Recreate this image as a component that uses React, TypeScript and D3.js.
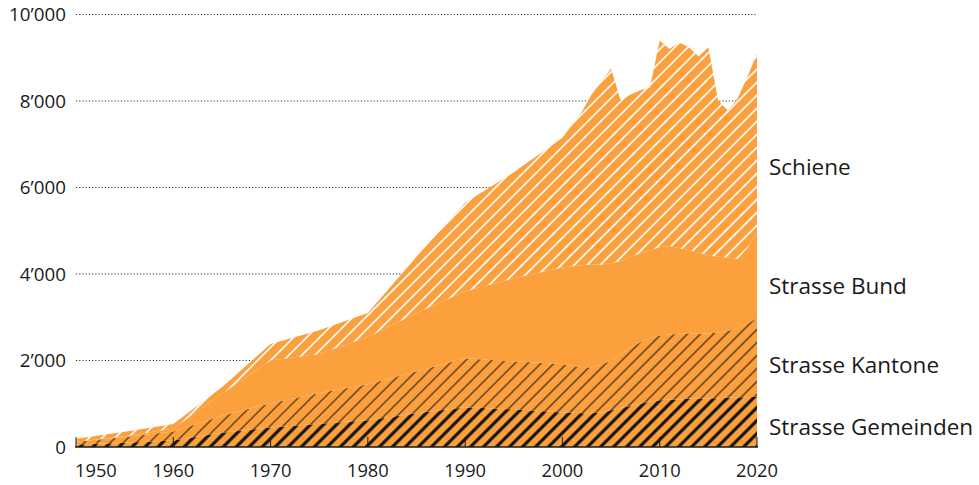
import React from "react";
import * as d3 from "d3";

const years = [1950, 1955, 1960, 1965, 1970, 1975, 1980, 1985, 1990, 1995, 2000, 2001, 2002, 2003, 2004, 2005, 2006, 2007, 2008, 2009, 2010, 2011, 2012, 2013, 2014, 2015, 2016, 2017, 2018, 2019, 2020];
const gemeinden = [60, 100, 150, 330, 450, 540, 620, 780, 920, 870, 800, 790, 780, 780, 800, 850, 900, 950, 1000, 1050, 1080, 1100, 1100, 1120, 1120, 1130, 1130, 1140, 1150, 1150, 1160];
const kantone = [60, 130, 210, 390, 560, 710, 830, 970, 1130, 1110, 1120, 1090, 1070, 1060, 1100, 1150, 1250, 1350, 1420, 1470, 1500, 1500, 1520, 1510, 1500, 1500, 1510, 1540, 1600, 1700, 1820];
const bund = [0, 20, 70, 510, 990, 900, 1100, 1350, 1550, 1920, 2230, 2300, 2350, 2380, 2320, 2250, 2150, 2100, 2060, 2030, 2040, 2050, 1980, 1920, 1880, 1800, 1760, 1700, 1600, 1750, 1970];
const schiene = [70, 100, 100, 150, 380, 550, 550, 1300, 2050, 2450, 3000, 3270, 3550, 3930, 4230, 4500, 3700, 3750, 3770, 3770, 4780, 4550, 4750, 4690, 4530, 4810, 3610, 3400, 3710, 3950, 4150];

const seriesKeys = ["gemeinden", "kantone", "bund", "schiene"];
const seriesLabels = ["Strasse Gemeinden", "Strasse Kantone", "Strasse Bund", "Schiene"];
const yTicks = [0, 2000, 4000, 6000, 8000, 10000];
const yTickLabels = ["0", "2’000", "4’000", "6’000", "8’000", "10’000"];
const xTicks = [1950, 1960, 1970, 1980, 1990, 2000, 2010, 2020];

const ORANGE = "#FBA03C";
const INK = "#1a1a1a";
const FONT = "'Open Sans', 'Noto Sans', sans-serif";

export default function App() {
  const W = 979, H = 485;
  const x = d3.scaleLinear().domain([1950, 2020]).range([76, 757]);
  const y = d3.scaleLinear().domain([0, 10000]).range([447, 14.5]);

  const rows = years.map((yr, i) => ({
    year: yr,
    gemeinden: gemeinden[i],
    kantone: kantone[i],
    bund: bund[i],
    schiene: schiene[i],
  }));
  const stacked = d3.stack<any>().keys(seriesKeys)(rows);
  const area = d3
    .area<any>()
    .x((d) => x(d.data.year))
    .y0((d) => y(d[0]))
    .y1((d) => y(d[1]))
    .curve(d3.curveLinear);

  const fills = ["url(#hatchThick)", "url(#hatchThin)", ORANGE, "url(#hatchWhite)"];
  const labelY = [427, 365, 286, 167];

  const sp = 9.2;
  const mkPattern = (id: string, color: string, w: number) => (
    <pattern id={id} patternUnits="userSpaceOnUse" width={sp} height={sp} patternTransform="rotate(45)">
      <rect x={0} y={0} width={sp} height={sp} fill={ORANGE} />
      <line x1={sp / 2} y1={-1} x2={sp / 2} y2={sp + 1} stroke={color} strokeWidth={w} />
    </pattern>
  );

  return (
    <svg width={W} height={H} style={{ position: "absolute", left: 0, top: 0, display: "block" }} fontFamily={FONT}>
      <defs>
        {mkPattern("hatchThick", "#111", 3.1)}
        {mkPattern("hatchThin", "#111", 1.0)}
        {mkPattern("hatchWhite", "#fff", 1.7)}
      </defs>
      {yTicks.filter((t) => t > 0).map((t) => (
        <line key={"g" + t} x1={76} x2={757} y1={y(t)} y2={y(t)} stroke="#333" strokeWidth={1.2} strokeDasharray="1.2,2" />
      ))}
      {stacked.map((s, i) => (
        <path key={s.key} d={area(s as any) || ""} fill={fills[i]} stroke="none" />
      ))}
      <line x1={75} x2={758} y1={447} y2={447} stroke={INK} strokeWidth={1.6} />
      {xTicks.map((t) => (
        <line key={"xt" + t} x1={x(t)} x2={x(t)} y1={447} y2={437} stroke={INK} strokeWidth={1} />
      ))}
      {yTicks.map((t, i) => (
        <text key={"yl" + t} x={66} y={y(t)} dy="0.35em" textAnchor="end" fontSize={18.8} fill={INK}>
          {yTickLabels[i]}
        </text>
      ))}
      {xTicks.map((t, i) => (
        <text key={"xl" + t} x={i === 0 ? 75 : x(t)} y={477} textAnchor={i === 0 ? "start" : "middle"} fontSize={18.3} fill={INK}>
          {String(t)}
        </text>
      ))}
      {seriesLabels.map((l, i) => (
        <text key={l} x={769} y={labelY[i]} dy="0.35em" fontSize={22.5} fill={INK}>
          {l}
        </text>
      ))}
    </svg>
  );
}
